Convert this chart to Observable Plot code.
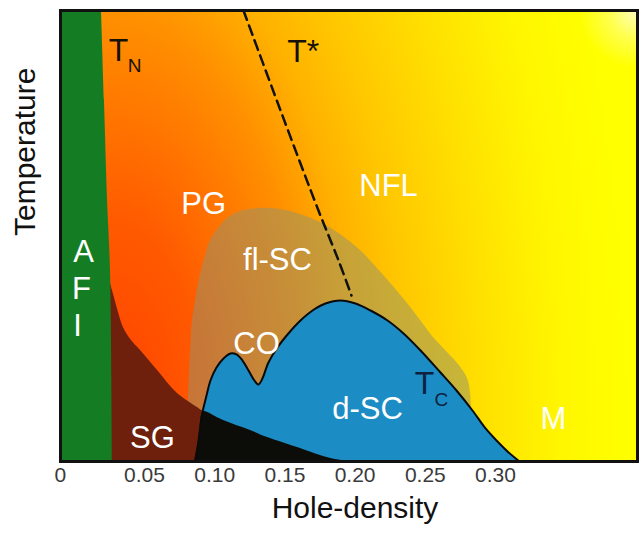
<!DOCTYPE html>
<html><head><meta charset="utf-8">
<script src="https://cdn.jsdelivr.net/npm/d3@7"></script>
<script src="https://cdn.jsdelivr.net/npm/@observablehq/plot@0.6"></script>
<style>
body{margin:0;background:#fff;}
#chart svg{display:block;}
</style></head><body><div id="chart"></div>
<script>
// ---- data (hole-density x, temperature T in arbitrary units 0..1) ----
const xTicks = [0.05, 0.10, 0.15, 0.20, 0.25, 0.30];
const xZeroTick = [0];
const afiEdge = [[0.0194,1],[0.0215,0.8004],[0.0237,0.5787],[0.0258,0.4235],[0.0272,0]];
const sgTop = [[0.0222,0.4346],[0.0272,0.3792],[0.0315,0.3304],[0.0350,0.2971],[0.0407,0.2683],[0.0472,0.2461],[0.0593,0.2018],[0.0735,0.1508],[0.0877,0.1197],[0.0927,0.1086]];
const flscDome = [[0.0799,0],[0.0813,0.1353],[0.0828,0.2461],[0.0842,0.3126],[0.0870,0.3681],[0.0899,0.4169],[0.0935,0.4568],[0.0970,0.4900],[0.1027,0.5166],[0.1091,0.5388],[0.1184,0.5543],[0.1312,0.5610],[0.1469,0.5588],[0.1611,0.5477],[0.1753,0.5299],[0.1896,0.5033],[0.2038,0.4678],[0.2159,0.4279],[0.2266,0.3902],[0.2373,0.3503],[0.2466,0.3126],[0.2551,0.2772],[0.2644,0.2461],[0.2736,0.2151],[0.2800,0.1840],[0.2822,0.1500],[0.2830,0]];
const dscDome = [[0.0863,0],[0.0885,0.0466],[0.0913,0.1086],[0.0942,0.1463],[0.0970,0.1796],[0.1013,0.2084],[0.1063,0.2284],[0.1113,0.2395],[0.1155,0.2373],[0.1198,0.2239],[0.1241,0.2018],[0.1283,0.1796],[0.1312,0.1707],[0.1340,0.1840],[0.1383,0.2195],[0.1447,0.2528],[0.1525,0.2838],[0.1611,0.3126],[0.1697,0.3348],[0.1789,0.3503],[0.1896,0.3570],[0.2003,0.3503],[0.2110,0.3348],[0.2231,0.3126],[0.2345,0.2838],[0.2466,0.2461],[0.2608,0.1973],[0.2722,0.1574],[0.2836,0.1131],[0.2929,0.0732],[0.3014,0.0443],[0.3093,0.0200],[0.3171,0]];
const blackTop = [[0.0856,0],[0.0885,0.0466],[0.0913,0.1086],[0.0927,0.1109],[0.1063,0.0909],[0.1255,0.0687],[0.1376,0.0532],[0.1611,0.0288],[0.1753,0.0133],[0.1860,0.0044],[0.1967,0]];
const tStarLine = [[0.1205,1],[0.1469,0.7783],[0.1739,0.5565],[0.1882,0.4457],[0.1974,0.3681]];
const regionLabels = [["NFL",0.2238,0.6098],["PG",0.0921,0.5698],["fl-SC",0.1447,0.4457],["CO",0.1298,0.2594],["SG",0.0557,0.0510],["d-SC",0.2088,0.1153],["M",0.3413,0.0931],["A",0.0066,0.4634],["F",0.0051,0.3814],["I",0.0023,0.2993]];
const lineLabels = [["T",0.0316,0.9113,"#151008"],["T*",0.1630,0.9091,"#151008"],["T",0.2494,0.1729,"#0e2240"]];
const lineSubLabels = [["N",0.0429,0.8780,"#151008"],["C",0.2615,0.1375,"#0e2240"]];

const xDomain = [-0.0098, 0.4011];
const font = "'Liberation Sans', Arial, Helvetica, sans-serif";
const X = d => d[0], Y = d => d[1];

const chart = Plot.plot({
  width: 639, height: 540,
  marginLeft: 60, marginRight: 2, marginTop: 10, marginBottom: 79,
  style: {fontFamily: font, background: "white"},
  x: {domain: xDomain, axis: null},
  y: {domain: [0, 1], axis: null},
  marks: [
    Plot.frame({fill: "url(#bgGrad)", stroke: "none"}),
    Plot.frame({fill: "url(#cornerGrad)", stroke: "none"}),
    Plot.areaY(flscDome, {x: X, y: Y, fill: "#94946c", fillOpacity: 0.52, curve: "catmull-rom", clip: true}),
    Plot.areaY(sgTop, {x: X, y: Y, fill: "#6e200c", curve: "catmull-rom", clip: true}),
    Plot.areaX(afiEdge, {y: Y, x1: xDomain[0], x2: X, fill: "#147d23", curve: "catmull-rom", clip: true}),
    Plot.areaY(dscDome, {x: X, y: Y, fill: "#1c8cc4", curve: "catmull-rom", clip: true}),
    Plot.areaY(blackTop, {x: X, y: Y, fill: "#0c0c08", curve: "catmull-rom", clip: true}),
    Plot.line(dscDome, {x: X, y: Y, stroke: "#0a0a0a", strokeWidth: 2, curve: "catmull-rom", clip: true}),
    Plot.line(tStarLine, {x: X, y: Y, stroke: "#111", strokeWidth: 2.5, strokeDasharray: "10,6", curve: "catmull-rom"}),
    Plot.text(regionLabels, {x: d => d[1], y: d => d[2], text: d => d[0], fill: "white", fontSize: 31}),
    Plot.text(lineLabels, {x: d => d[1], y: d => d[2], text: d => d[0], fill: d => d[3], fontSize: 32}),
    Plot.text(lineSubLabels, {x: d => d[1], y: d => d[2], text: d => d[0], fill: d => d[3], fontSize: 19}),
    Plot.frame({stroke: "#111", strokeWidth: 3}),
    Plot.text(xTicks, {x: d => d, frameAnchor: "bottom", dy: 20, text: d => d.toFixed(2), fill: "#3a3a3a", fontSize: 21}),
    Plot.text(xZeroTick, {x: d => d, frameAnchor: "bottom", dy: 20, dx: -14, text: d => String(d), fill: "#3a3a3a", fontSize: 21}),
    Plot.text(["Hole-density"], {frameAnchor: "bottom", dy: 56, dx: 6, text: d => d, fill: "#111", fontSize: 30}),
    Plot.text(["Temperature"], {frameAnchor: "left", dx: -35, rotate: -90, text: d => d, fill: "#111", fontSize: 30})
  ]
});

// gradients for the background field, positioned through the scales
const sx = chart.scale("x"), sy = chart.scale("y");
const svg = d3.select(chart);
const defs = svg.insert("defs", ":first-child");
const cx = sx.apply(0.025), cy = sy.apply(0.1);
const bg = defs.append("radialGradient").attr("id", "bgGrad").attr("gradientUnits", "userSpaceOnUse")
  .attr("cx", cx).attr("cy", cy).attr("fx", cx).attr("fy", cy).attr("r", 520)
  .attr("gradientTransform", `translate(${cx},${cy}) scale(1,2) translate(${-cx},${-cy})`);
[[0,"#ff4000"],[0.19,"#ff5a00"],[0.385,"#ff9000"],[0.48,"#ffb200"],[0.577,"#ffc800"],[0.73,"#ffe200"],[0.865,"#fff600"],[1,"#ffff00"]]
  .forEach(([o,c]) => bg.append("stop").attr("offset", o).attr("stop-color", c));
const kx = sx.apply(xDomain[1]), ky = sy.apply(1);
const cg = defs.append("radialGradient").attr("id", "cornerGrad").attr("gradientUnits", "userSpaceOnUse")
  .attr("cx", kx).attr("cy", ky).attr("r", 58);
[[0,"#ffffff",0.75],[0.5,"#ffffff",0.3],[1,"#ffffff",0]]
  .forEach(([o,c,a]) => cg.append("stop").attr("offset", o).attr("stop-color", c).attr("stop-opacity", a));

document.getElementById("chart").appendChild(chart);
</script></body></html>
